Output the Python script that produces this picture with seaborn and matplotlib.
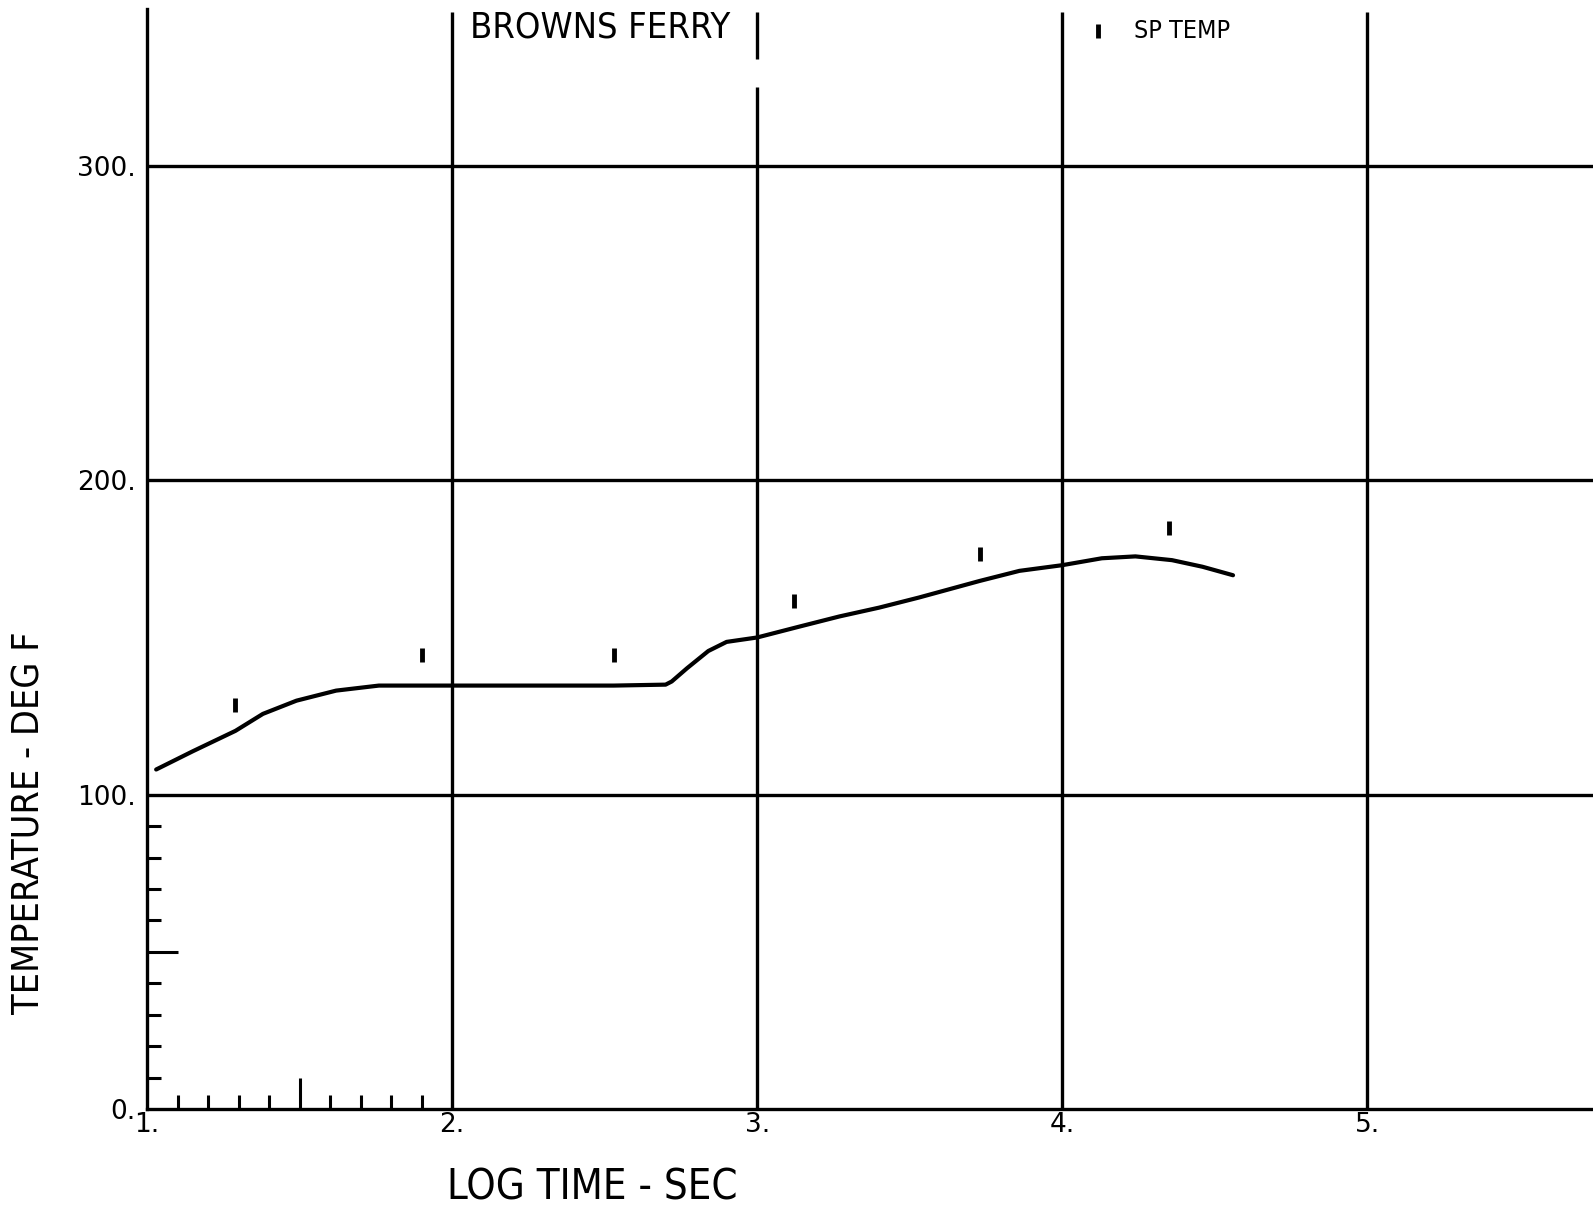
import matplotlib
matplotlib.use('Agg')
import matplotlib.pyplot as plt
import seaborn as sns
import pandas as pd

# suppression pool temperature curve (log10 time in sec, deg F)
log_time = [1.03, 1.15, 1.29, 1.38, 1.49, 1.62, 1.76, 1.90, 2.00, 2.20, 2.53, 2.70,
            2.72, 2.77, 2.84, 2.90, 3.00, 3.14, 3.27, 3.40, 3.53, 3.73, 3.86, 4.00,
            4.13, 4.24, 4.36, 4.46, 4.56]
temp = [108.0, 113.8, 120.3, 125.7, 129.9, 133.1, 134.7, 134.7, 134.7, 134.7, 134.7, 135.0,
        136.0, 140.2, 145.7, 148.6, 150.0, 153.5, 156.7, 159.5, 162.7, 168.0, 171.2, 173.0,
        175.2, 175.8, 174.6, 172.5, 169.8]

# SP TEMP markers
mark_time = [1.29, 1.90, 2.53, 3.12, 3.73, 4.35]
mark_temp = [128.5, 144.4, 144.4, 161.5, 176.5, 184.8]

x_major = [1, 2, 3, 4, 5]
x_labels = ['1.', '2.', '3.', '4.', '5.']
y_major = [0, 100, 200, 300]
y_labels = ['0.', '100.', '200.', '300.']
x_minor = [1.1, 1.2, 1.3, 1.4, 1.5, 1.6, 1.7, 1.8, 1.9]
y_minor = [10, 20, 30, 40, 50, 60, 70, 80, 90]

sns.set_style('white')
plt.rcParams['font.family'] = ['DejaVu Sans']
plt.rcParams['text.color'] = 'black'
plt.rcParams['xtick.color'] = 'black'
plt.rcParams['ytick.color'] = 'black'

curve = pd.DataFrame({'t': log_time, 'T': temp})
marks = pd.DataFrame({'t': mark_time, 'T': mark_temp})

fig = plt.figure(figsize=(15.93, 12.11), dpi=100)
ax = fig.add_axes([147 / 1593, 102 / 1211, 1446 / 1593, 1109 / 1211])

# grid
for yv in [100, 200, 300]:
    ax.axhline(yv, color='black', lw=2.4, zorder=1)
ax.vlines([2, 4, 5], 0, 349, color='black', lw=2.4, zorder=1)
ax.vlines([3, 3], [0, 334], [325, 349], color='black', lw=2.4, zorder=1)

sns.lineplot(data=curve, x='t', y='T', ax=ax, color='black', lw=3, sort=False,
             estimator=None, zorder=3)
sns.scatterplot(data=marks, x='t', y='T', ax=ax, marker='|', s=110, linewidth=3.5,
                color='black', zorder=4, label='SP TEMP')

ax.set_xlim(1, 5.74)
ax.set_ylim(0, 352.8)
ax.set_xticks(x_major)
ax.set_xticklabels(x_labels)
ax.set_yticks(y_major)
ax.set_yticklabels(y_labels)
ax.set_xticks(x_minor, minor=True)
ax.set_yticks(y_minor, minor=True)
ax.tick_params(bottom=True, left=True, which='both')
ax.tick_params(which='major', length=0, labelsize=19)
ax.tick_params(axis='x', which='major', pad=2)
ax.tick_params(axis='y', which='major', pad=8)
ax.tick_params(which='minor', direction='in', length=10, width=2.2, color='black')
# middle tick of each minor run is drawn longer
ax.xaxis.get_minor_ticks()[x_minor.index(1.5)].tick1line.set_markersize(22)
ax.yaxis.get_minor_ticks()[y_minor.index(50)].tick1line.set_markersize(22)

ax.set_xlabel('')
ax.set_ylabel('')
for side in ['top', 'right']:
    ax.spines[side].set_visible(False)
for side in ['left', 'bottom']:
    ax.spines[side].set_linewidth(2.4)
    ax.spines[side].set_color('black')
ax.spines['left'].set_bounds(0, 350)
ax.set_facecolor('white')

fig.text(600 / 1593, 1 - 28 / 1211, 'BROWNS FERRY', ha='center', va='center',
         fontsize=26, fontstretch='condensed')
fig.text(592 / 1593, 1 - 1187 / 1211, 'LOG TIME - SEC', ha='center', va='center',
         fontsize=30, fontstretch='condensed')
fig.text(30 / 1593, 1 - 823 / 1211, 'TEMPERATURE - DEG F', ha='center', va='center',
         rotation=90, fontsize=27, fontstretch='condensed')

leg = ax.legend(loc='center left', bbox_to_anchor=((1092 - 147) / 1446, 1 - 31 / 1109),
                frameon=False, handlelength=0.5, handletextpad=1.2, borderpad=0,
                borderaxespad=0, prop={'size': 18, 'stretch': 'condensed'})

fig.savefig('out.png', dpi=100, facecolor='white')
